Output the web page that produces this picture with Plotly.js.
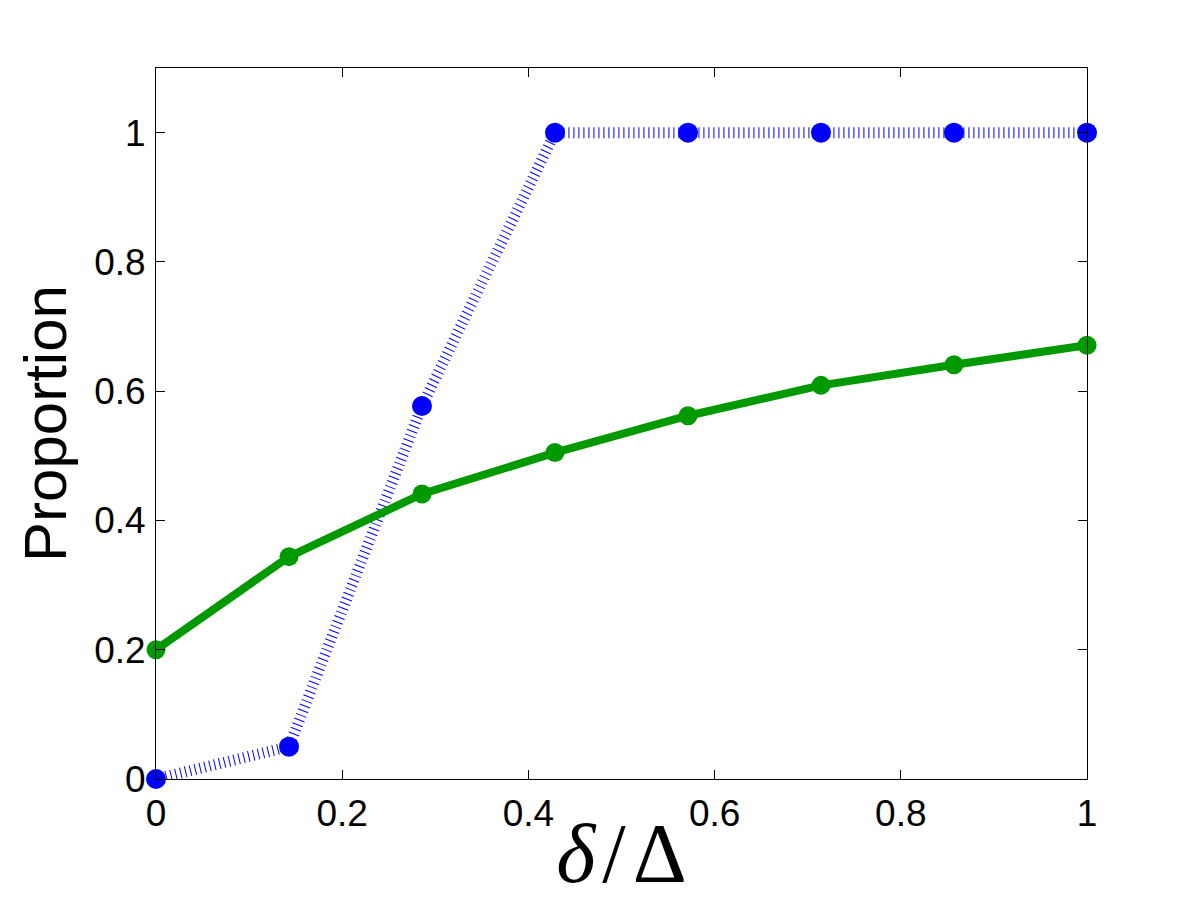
<!DOCTYPE html>
<html>
<head>
<meta charset="utf-8">
<script src="https://cdn.plot.ly/plotly-3.0.1.min.js"></script>
<style>
  body { margin: 0; background: #fff; }
  #plot { width: 1200px; height: 900px; }
</style>
</head>
<body>
<div id="plot"></div>
<script>
// delta / Delta, 8 steps from 0 to 1
var ratio = [0, 1/7, 2/7, 3/7, 4/7, 5/7, 6/7, 1];
var blue_prop = [0, 0.05, 0.577, 1, 1, 1, 1, 1];
var green_prop = [0.2, 0.344, 0.441, 0.505, 0.562, 0.609, 0.641, 0.671];
var tick_vals = [0, 0.2, 0.4, 0.6, 0.8, 1];
var tick_text = ['0', '0.2', '0.4', '0.6', '0.8', '1'];

var blue_trace = {
  x: ratio,
  y: blue_prop,
  mode: 'lines+markers',
  type: 'scatter',
  line: { color: '#0000ff', width: 11, dash: '1px,4px' },
  marker: { color: '#0000ff', size: 20 },
  cliponaxis: false
};

var green_trace = {
  x: ratio,
  y: green_prop,
  mode: 'lines+markers',
  type: 'scatter',
  line: { color: '#009900', width: 8 },
  marker: { color: '#009900', size: 19 },
  cliponaxis: false
};

var axis_common = {
  showline: true,
  linecolor: 'black',
  linewidth: 1,
  mirror: 'ticks',
  ticks: 'inside',
  ticklen: 9,
  tickwidth: 1,
  tickcolor: 'black',
  showgrid: false,
  zeroline: false,
  tickvals: tick_vals,
  ticktext: tick_text,
  tickfont: { family: 'Liberation Sans, Arial, sans-serif', size: 37, color: 'black' }
};

var layout = {
  width: 1200,
  height: 900,
  showlegend: false,
  paper_bgcolor: 'white',
  plot_bgcolor: 'white',
  margin: { l: 156, r: 113, t: 68, b: 121 },
  xaxis: Object.assign({}, axis_common, {
    range: [0, 1],
    ticklabelstandoff: 2,
    title: {
      text: '<i>δ</i>\u200a/\u200aΔ',
      font: { family: 'Liberation Serif, Times New Roman, serif', size: 84, color: 'black' },
      standoff: 8
    }
  }),
  yaxis: Object.assign({}, axis_common, {
    range: [0, 1.1],
    ticklabelstandoff: 2,
    title: {
      text: 'Proportion',
      font: { family: 'Liberation Sans, Arial, sans-serif', size: 60, color: 'black' },
      standoff: 8
    }
  })
};

Plotly.newPlot('plot', [blue_trace, green_trace], layout, { displayModeBar: false, staticPlot: true });
</script>
</body>
</html>
